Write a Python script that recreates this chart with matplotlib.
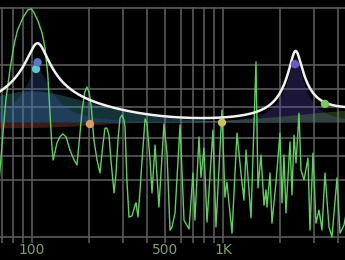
import numpy as np
import matplotlib
matplotlib.use("Agg")
import matplotlib.pyplot as plt
from matplotlib.transforms import blended_transform_factory

# EQ bands: type, centre frequency (Hz), gain (dB), Q
band_types = ["lowshelf", "peak", "peak", "peak", "peak", "highshelf"]
band_freqs = [200, 100, 107, 1000, 2400, 2600]
band_gains = [-1.2, 6.5, 11.2, 0.0, 13.4, 3.3]
band_qs = [0.7, 0.5, 2.4, 1.0, 3.6, 0.5]
band_colors = ["#d9a066", "#5cc8d8", "#5a78c8", "#c8c45c", "#6a5acd", "#7ec860"]
fill_colors = ["#c85a4a", "#4aa8c0", "#3a5aa8", "#c8c45c", "#5a48b8", "#6aa850"]
# where the drag handles sit (Hz, dB)
handle_freqs = [201, 105, 107, 988, 2380, 3420]
handle_gains = [-0.3, 11.2, 12.6, 0.0, 12.2, 3.9]

# analyser spectrum (Hz, dB)
spec_freqs = [67, 70.5, 73, 77, 80.5, 84, 90, 95, 99, 102, 107, 113, 117, 121, 124, 127,
              129, 132, 135, 140, 145, 151, 158, 166, 172, 178, 183, 189, 194, 199, 204,
              211, 219, 227, 235, 241, 247, 253, 259, 269, 275, 282, 289, 296, 303, 307,
              314, 322, 334, 346, 350, 359, 368, 377, 391, 400, 415, 425, 441, 462, 491,
              509, 528, 541, 561, 596, 625, 664, 696, 713, 749, 767, 795, 825, 886, 919,
              988, 1024, 1049, 1075, 1115, 1184, 1242, 1288, 1320, 1402, 1489, 1525, 1581,
              1640, 1680, 1700, 1763, 1805, 1895, 1988, 2037, 2086, 2137, 2243, 2298, 2354,
              2412, 2500, 2561, 2656, 2786, 2855, 2960, 3069, 3182, 3300, 3420, 3589, 3722,
              3954, 4100, 4300, 4400]
spec_db = [-46.4, -32.9, -24.3, -15.7, -9.9, -6.0, -2.6, -0.8, -0.5, -1.3, -3.4, -6.8, -10.7,
           -17.7, -26.9, -36.0, -39.9, -37.8, -35.5, -33.9, -33.1, -33.9, -37.3, -39.9, -41.2,
           -33.4, -26.9, -22.2, -20.9, -22.2, -25.6, -34.7, -39.9, -43.3, -36.0, -31.6, -31.6,
           -33.4, -39.9, -48.5, -43.8, -34.7, -29.0, -28.2, -29.5, -31.3, -45.1, -54.8, -54.5,
           -51.7, -51.1, -54.8, -47.7, -39.9, -29.2, -30.3, -39.9, -48.5, -36.0, -52.2, -30.5,
           -38.1, -58.2, -57.4, -53.7, -30.8, -55.6, -57.9, -43.3, -55.6, -33.9, -44.4, -36.8,
           -56.1, -32.1, -57.4, -26.9, -49.6, -45.7, -51.1, -59.0, -32.9, -43.3, -50.4, -37.3,
           -55.0, -14.3, -47.2, -38.6, -51.7, -47.7, -52.2, -43.3, -56.4, -45.7, -32.9, -51.1,
           -38.6, -53.7, -35.2, -49.0, -33.4, -40.7, -27.7, -42.5, -45.1, -39.4, -58.2, -38.1,
           -56.4, -53.0, -58.2, -43.3, -57.4, -60.0, -44.6, -59.0, -56.9, -54.3]

tick_freqs = [100, 500, 1000]
tick_labels = ["100", "500", "1K"]
grid_freqs = [70, 80, 90, 100, 200, 300, 400, 500, 600, 700, 800, 900, 1000, 2000, 3000, 4000]
grid_db = [24, 12, 7, 3.2, -3.3, -7, -12, -24]

FS = 48000.0


# Magnitude (dB) of one RBJ biquad band at the given frequencies.
def band_response(kind, f0, gain, q, f):
    A = 10 ** (gain / 40.0)
    w0 = 2 * np.pi * f0 / FS
    cw, sw = np.cos(w0), np.sin(w0)
    alpha = sw / (2 * q)
    if kind == "peak":
        b = [1 + alpha * A, -2 * cw, 1 - alpha * A]
        a = [1 + alpha / A, -2 * cw, 1 - alpha / A]
    elif kind == "lowshelf":
        s = 2 * np.sqrt(A) * alpha
        b = [A * ((A + 1) - (A - 1) * cw + s), 2 * A * ((A - 1) - (A + 1) * cw), A * ((A + 1) - (A - 1) * cw - s)]
        a = [(A + 1) + (A - 1) * cw + s, -2 * ((A - 1) + (A + 1) * cw), (A + 1) + (A - 1) * cw - s]
    else:
        s = 2 * np.sqrt(A) * alpha
        b = [A * ((A + 1) + (A - 1) * cw + s), -2 * A * ((A - 1) + (A + 1) * cw), A * ((A + 1) + (A - 1) * cw - s)]
        a = [(A + 1) - (A - 1) * cw + s, 2 * ((A - 1) - (A + 1) * cw), (A + 1) - (A - 1) * cw - s]
    z = np.exp(-1j * 2 * np.pi * f / FS)
    h = (b[0] + b[1] * z + b[2] * z ** 2) / (a[0] + a[1] * z + a[2] * z ** 2)
    return 20 * np.log10(np.abs(h))


fig = plt.figure(figsize=(3.45, 2.6), dpi=100, facecolor="black")
ax = fig.add_axes([0, 0, 1, 1], facecolor="black")
ax.set_xscale("log")
ax.set_xlim(68, 4354)
ax.set_ylim(-28.7, 25.6)
ax.axis("off")

# grid
for g in grid_db:
    ax.axhline(g, color="#5a5a5a", lw=1.2, zorder=1)
ax.vlines(grid_freqs, -25.2, 24.1, color="#5a5a5a", lw=1.2, zorder=1)

freq = np.logspace(np.log10(60), np.log10(5000), 600)
total = np.zeros_like(freq)
for kind, f0, g, q, c in zip(band_types, band_freqs, band_gains, band_qs, fill_colors):
    r = band_response(kind, f0, g, q, freq)
    total += r
    ax.fill_between(freq, 0, r, color=c, alpha=0.3, lw=0, zorder=2)

# analyser on its own scale, drawn over the fills
ax2 = ax.twinx()
ax2.set_ylim(-66.0, 1.83)
ax2.axis("off")
ax2.plot(spec_freqs, spec_db, color="#5fd05f", lw=1.0)

# overall curve and handles on top
ax3 = fig.add_axes([0, 0, 1, 1], sharex=ax, facecolor="none")
ax3.set_ylim(-28.7, 25.6)
ax3.axis("off")
ax3.plot(freq, total, color="#f2f2f2", lw=1.8)
ax3.scatter(handle_freqs, handle_gains, s=36, c=band_colors, zorder=5, linewidths=0)

trans = blended_transform_factory(ax.transData, ax.transAxes)
for f, t in zip(tick_freqs, tick_labels):
    ax.text(f, 0.038, t, transform=trans, ha="center", va="center", color="#7fa06f", fontsize=10)

fig.savefig("out.png", dpi=100, facecolor="black")
